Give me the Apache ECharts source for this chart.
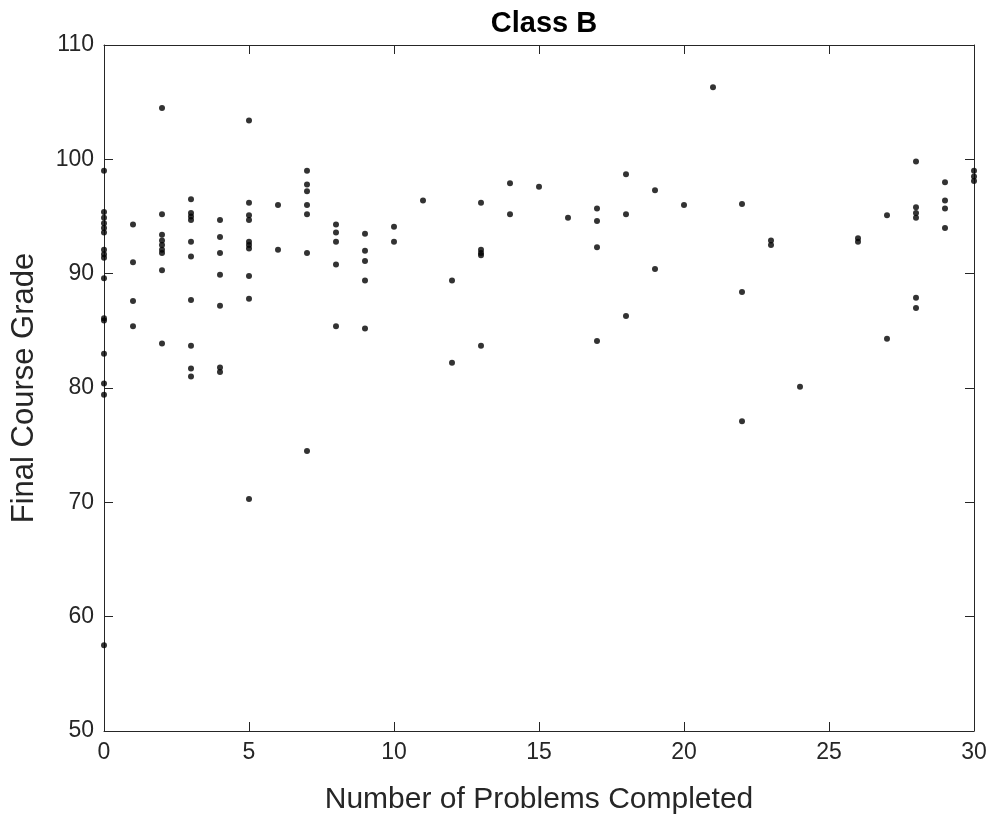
<!DOCTYPE html>
<html>
<head>
<meta charset="utf-8">
<title>Class B</title>
<script src="https://cdn.jsdelivr.net/npm/echarts@6/dist/echarts.min.js"></script>
<style>
  html, body { margin: 0; padding: 0; background: #fff; }
  #chart { width: 995px; height: 823px; }
</style>
</head>
<body>
<div id="chart"></div>
<script>
'use strict';

// problems completed (x) and final grade (y), one entry per student
var problems = [
  0, 0, 0, 0, 0, 0, 0, 0, 0, 0, 0, 0, 0, 0, 0, 0,
  1, 1, 1, 1,
  2, 2, 2, 2, 2, 2, 2, 2, 2,
  3, 3, 3, 3, 3, 3, 3, 3, 3, 3,
  4, 4, 4, 4, 4, 4, 4,
  5, 5, 5, 5, 5, 5, 5, 5, 5, 5,
  6, 6,
  7, 7, 7, 7, 7, 7, 7,
  8, 8, 8, 8, 8,
  9, 9, 9, 9, 9,
  10, 10,
  11,
  12, 12,
  13, 13, 13, 13, 13,
  14, 14,
  15,
  16,
  17, 17, 17, 17,
  18, 18, 18,
  19, 19,
  20,
  21,
  22, 22, 22,
  23, 23,
  24,
  26, 26,
  27, 27,
  28, 28, 28, 28, 28, 28,
  29, 29, 29, 29,
  30, 30, 30
];
var grades = [
  99.0, 95.4, 94.9, 94.4, 94.0, 93.6, 92.1, 91.7, 91.4, 89.6, 86.1, 85.9, 83.0, 80.4, 79.4, 57.5,
  94.3, 91.0, 87.6, 85.4,
  104.5, 95.2, 93.4, 92.9, 92.5, 92.1, 91.8, 90.3, 83.9,
  96.5, 95.3, 95.0, 94.7, 92.8, 91.5, 87.7, 83.7, 81.7, 81.0,
  94.7, 93.2, 91.8, 89.9, 87.2, 81.8, 81.4,
  103.4, 96.2, 95.1, 94.7, 92.8, 92.5, 92.2, 89.8, 87.8, 70.3,
  96.0, 92.1,
  99.0, 97.8, 97.2, 96.0, 95.2, 91.8, 74.5,
  94.3, 93.6, 92.8, 90.8, 85.4,
  93.5, 92.0, 91.1, 89.4, 85.2,
  94.1, 92.8,
  96.4,
  89.4, 82.2,
  96.2, 92.1, 91.8, 91.6, 83.7,
  97.9, 95.2,
  97.6,
  94.9,
  95.7, 94.6, 92.3, 84.1,
  98.7, 95.2, 86.3,
  97.3, 90.4,
  96.0,
  106.3,
  96.1, 88.4, 77.1,
  92.9, 92.5,
  80.1,
  93.1, 92.8,
  95.1, 84.3,
  99.8, 95.8, 95.3, 94.9, 87.9, 87.0,
  98.0, 96.4, 95.7, 94.0,
  99.0, 98.5, 98.1
];

var titleText = 'Class B';
var xName = 'Number of Problems Completed';
var yName = 'Final Course Grade';

var points = [];
for (var i = 0; i < problems.length; i++) {
  points.push([problems[i], grades[i]]);
}

var axisColor = '#262626';
var font = 'Liberation Sans, Arial, Helvetica, sans-serif';

function boxAxis(pos, showLabels, min, max, step) {
  return {
    type: 'value',
    position: pos,
    min: min,
    max: max,
    interval: step,
    splitLine: { show: false },
    axisLine: { show: true, onZero: false, lineStyle: { color: axisColor, width: 1 } },
    axisTick: { show: true, inside: true, length: 9, lineStyle: { color: axisColor, width: 1 } },
    axisLabel: {
      show: showLabels,
      color: axisColor,
      fontFamily: font,
      fontSize: 23,
      margin: 10
    }
  };
}

var xBottom = boxAxis('bottom', true, 0, 30, 5);
xBottom.name = xName;
xBottom.nameLocation = 'middle';
xBottom.nameGap = 54;
xBottom.nameTextStyle = { color: axisColor, fontFamily: font, fontSize: 30 };

var yLeft = boxAxis('left', true, 50, 110, 10);
yLeft.name = yName;
yLeft.nameLocation = 'middle';
yLeft.nameGap = 64;
yLeft.nameTextStyle = { color: axisColor, fontFamily: font, fontSize: 31 };

var myChart = echarts.init(document.getElementById('chart'));
myChart.setOption({
  animation: false,
  backgroundColor: '#ffffff',
  title: {
    text: titleText,
    left: 539,
    top: 4,
    textAlign: 'center',
    textStyle: { color: '#000', fontFamily: font, fontSize: 29, fontWeight: 'bold' }
  },
  grid: { left: 104, right: 21, top: 45, bottom: 92 },
  xAxis: [xBottom, boxAxis('top', false, 0, 30, 5)],
  yAxis: [yLeft, boxAxis('right', false, 50, 110, 10)],
  series: [{
    type: 'scatter',
    xAxisIndex: 0,
    yAxisIndex: 0,
    symbol: 'circle',
    symbolSize: 6,
    clip: false,
    itemStyle: { color: '#000' },
    data: points
  }]
});
</script>
</body>
</html>
